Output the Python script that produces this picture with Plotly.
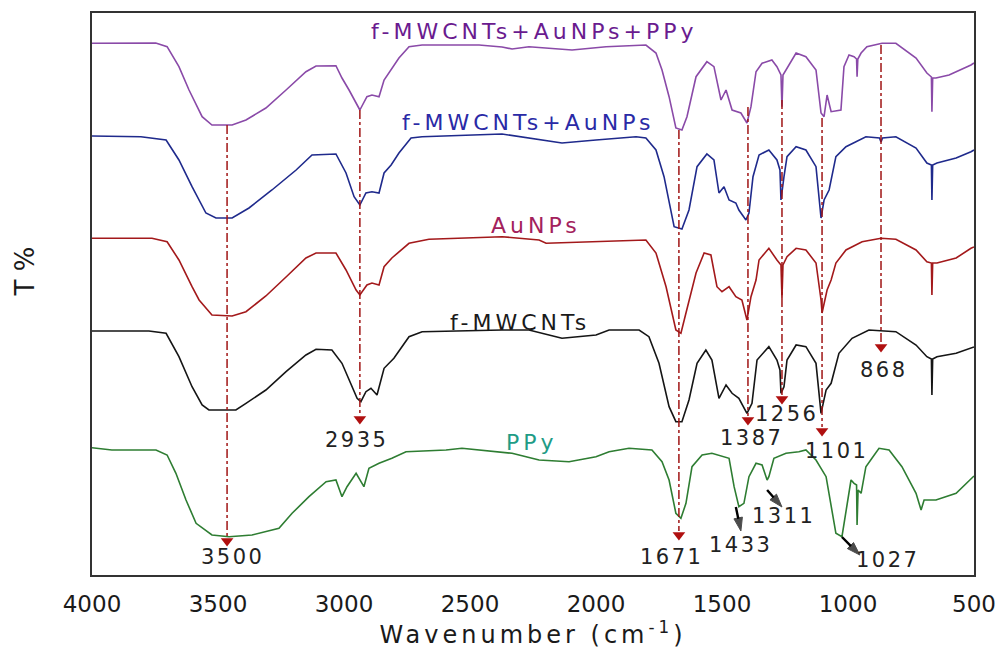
import plotly.graph_objects as go

# ---------------- data (wavenumber in cm-1, transmittance in offset units) -------------
purple_wn = [4000, 3747, 3702, 3655, 3615, 3563, 3524, 3444, 3389, 3310, 3230, 3151, 3111, 3032, 3008, 2980,
             2937, 2909, 2889, 2861, 2841, 2813, 2782, 2742, 2690, 2464, 2373, 2333, 2266, 2095, 1960, 1802,
             1762, 1738, 1710, 1683, 1659, 1639, 1603, 1560, 1532, 1504, 1484, 1460, 1425, 1401, 1385, 1365,
             1341, 1302, 1282, 1266, 1262, 1258, 1246, 1206, 1167, 1127, 1107, 1095, 1083, 1067, 1028, 1016,
             996, 976, 966, 964, 961, 948, 925, 865, 810, 730, 687, 669, 667, 664, 651, 599, 512, 500]
purple_t = [531.7, 532, 528.3, 508.3, 485, 458.3, 450, 450, 455, 467, 485, 503.3, 509, 509.3, 497, 485,
            465, 478.3, 480, 478.3, 495, 505, 517, 528.3, 530, 530, 528, 526, 528.3, 525, 528.3, 530,
            522, 505, 478.3, 447, 445, 458.3, 498.3, 513.3, 508.3, 475, 485, 465, 462, 452, 468.3, 503.3,
            511.7, 515, 508.3, 500, 468.3, 500, 505, 522, 518.3, 505, 462, 458.3, 480, 463.3, 465, 508.3,
            520, 518.3, 516, 498.3, 516, 522, 528.3, 531.7, 531.7, 517, 502, 498, 463.3, 497, 497, 500, 510, 512]

blue_wn = [4000, 3806, 3706, 3655, 3603, 3548, 3508, 3444, 3377, 3286, 3190, 3127, 3032, 2992, 2960, 2937,
           2913, 2889, 2861, 2841, 2813, 2782, 2734, 2690, 2373, 2266, 2135, 2000, 1841, 1802, 1762, 1730,
           1710, 1690, 1659, 1631, 1599, 1560, 1532, 1512, 1492, 1472, 1445, 1433, 1405, 1393, 1377, 1353,
           1314, 1282, 1270, 1266, 1254, 1242, 1206, 1167, 1127, 1107, 1095, 1075, 1048, 1008, 929, 875,
           869, 863, 810, 730, 687, 669, 667, 664, 647, 571, 512, 500]
blue_t = [439, 438.3, 435, 415, 388.3, 362, 357, 357, 367, 385, 405, 420, 421, 402, 378.3, 370,
          382, 383.3, 382, 402, 410, 422, 437, 438.3, 441, 437, 432, 435, 438.3, 437, 425, 398.3,
          375, 348.3, 346, 365, 408.3, 421, 415, 382, 388.3, 375, 372, 365, 355, 362, 398.3, 420,
          425, 415, 405, 375, 398.3, 418.3, 428.3, 425, 408.3, 357, 375, 385, 418.3, 428.3, 438.3, 437,
          433, 437, 438.3, 427, 412, 410, 375, 410, 412, 417, 423.3, 425]

red_wn = [4000, 3762, 3702, 3655, 3603, 3575, 3524, 3444, 3389, 3310, 3230, 3151, 3111, 3032, 2992, 2952,
          2937, 2909, 2889, 2861, 2841, 2810, 2742, 2663, 2373, 2226, 2198, 1960, 1802, 1762, 1722, 1683,
          1663, 1643, 1603, 1571, 1544, 1520, 1500, 1472, 1445, 1421, 1401, 1385, 1365, 1353, 1314, 1282,
          1266, 1262, 1258, 1242, 1206, 1167, 1127, 1107, 1103, 1083, 1067, 1048, 1008, 944, 869, 810,
          730, 687, 669, 667, 664, 647, 571, 512, 500]
red_t = [336.7, 336.7, 333.3, 315, 288.3, 275, 260, 259, 263.3, 279, 298, 317, 322, 322, 305, 285,
         280, 290, 292, 290, 308.3, 317, 331.7, 335.7, 338.3, 335, 331.7, 333.3, 335, 322, 288.3, 245,
         241.7, 262, 302, 322, 320, 288.3, 283.3, 288.3, 278.3, 275, 255, 278.3, 295, 315, 326.7, 315,
         310, 277, 310, 318.3, 326.7, 325, 312, 275, 262, 285, 295, 312, 325, 333.3, 336.7, 335.7,
         325, 313.3, 312, 280, 312, 312, 317, 326.7, 328]

black_wn = [4000, 3774, 3706, 3655, 3603, 3563, 3536, 3429, 3389, 3310, 3230, 3151, 3111, 3048, 3008, 2980,
            2948, 2933, 2913, 2893, 2869, 2841, 2802, 2742, 2690, 2373, 2266, 2135, 2000, 1948, 1829, 1790,
            1750, 1710, 1683, 1659, 1631, 1599, 1564, 1540, 1512, 1484, 1460, 1433, 1401, 1381, 1361, 1314,
            1282, 1270, 1266, 1254, 1242, 1206, 1167, 1127, 1107, 1087, 1067, 1036, 984, 917, 810, 730,
            687, 669, 667, 664, 647, 571, 512, 500]
black_t = [244, 244, 241.7, 218.3, 188.3, 170, 165, 165, 171.7, 185, 203.3, 220, 225.7, 225, 211.7, 195,
           176.7, 173.3, 183.3, 186.7, 180, 206.7, 216.7, 238.3, 243.3, 245, 245, 236.7, 240, 245, 245, 238.3,
           211.7, 168.3, 153.3, 153.3, 175, 211.7, 225, 215, 176.7, 190, 181.7, 176.7, 161.7, 171.7, 215, 228.3,
           215, 205, 181.7, 188.3, 215, 230, 228.3, 211.7, 161.7, 185, 191.7, 221.7, 236.7, 245, 243.3, 230,
           218.3, 216, 180, 216, 218.3, 221.7, 226.7, 228]

green_wn = [4000, 3921, 3746, 3702, 3667, 3627, 3587, 3524, 3456, 3365, 3258, 3206, 3139, 3071, 3032, 3008,
            2988, 2952, 2921, 2901, 2861, 2810, 2754, 2595, 2532, 2464, 2333, 2226, 2107, 2000, 1948, 1869,
            1778, 1738, 1710, 1683, 1663, 1643, 1619, 1579, 1540, 1472, 1452, 1433, 1413, 1393, 1365, 1341,
            1321, 1314, 1294, 1246, 1195, 1167, 1127, 1087, 1067, 1048, 1024, 1004, 988, 976, 966, 964,
            960, 948, 929, 905, 877, 837, 786, 730, 710, 698, 651, 571, 512, 500]
green_t = [127.3, 125, 125, 120, 101.7, 75, 51.7, 40, 38.3, 40, 46.7, 61.7, 78.3, 93.3, 95, 78.3,
           88.3, 101.7, 88.3, 106.7, 111.7, 116.7, 123.3, 125, 126.7, 125, 121.7, 115, 113.3, 118.3, 123.3, 126.7,
           125, 113.3, 95, 61.7, 56.7, 71.7, 108.3, 120, 121.7, 116.7, 88.3, 68.3, 71.7, 98.3, 111.7, 110,
           95, 98.3, 116.7, 121.7, 123.3, 125, 115, 98.3, 68.3, 41.7, 38.3, 68.3, 95, 91.7, 90, 50,
           85, 81.7, 108.3, 116.7, 126.7, 125, 108.3, 81.7, 65, 75, 75, 81.7, 96.7, 99]

series_names = ["f-MWCNTs+AuNPs+PPy", "f-MWCNTs+AuNPs", "AuNPs", "f-MWCNTs", "PPy"]
series_label_pos = [(2246, 544), (2266, 453), (2238, 350), (2302, 253), (2254, 133)]

# marked peaks (red dash-dot guides): label, x of guide, top, bottom (arrow), label position
peak_labels = ["3500", "2935", "1671", "1387", "1256", "1101", "868"]
peak_x = [3464, 2937, 1671, 1397, 1262, 1103, 869]
peak_top = [450, 465, 445, 468, 475, 457, 530]
peak_bottom = [34, 156, 40, 155, 176, 144, 228]
peak_label_x = [3444, 2952, 1699, 1381, 1246, 1044, 857]
peak_label_y = [18, 135, 18, 137, 161, 124, 205]

# PPy peaks marked with black arrows: label, arrow tail, arrow head, label position
ppy_labels = ["1433", "1311", "1027"]
ppy_tail = [(1445, 68), (1321, 85), (1024, 38)]
ppy_head = [(1425, 44), (1262, 68), (953, 20)]
ppy_label_pos = [(1425, 30), (1254, 59), (845, 15)]

x_ticks = [4000, 3500, 3000, 2500, 2000, 1500, 1000, 500]

# ---------------- figure -------------
FONT = "DejaVu Sans, Verdana, sans-serif"
line_colors = ["#8a4aa8", "#1f2a8c", "#a3191b", "#151515", "#2e7d32"]
label_colors = ["#6a1b8f", "#2a2aa6", "#a3215c", "#1a1a1a", "#1f9c86"]
series = [(purple_wn, purple_t), (blue_wn, blue_t), (red_wn, red_t), (black_wn, black_t), (green_wn, green_t)]

fig = go.Figure()
for (wn, t), name, col in zip(series, series_names, line_colors):
    fig.add_trace(go.Scatter(x=wn, y=t, mode="lines", name=name,
                             line=dict(color=col, width=1.6), showlegend=False))

GUIDE = "#a01515"
for lab, px, top, bot in zip(peak_labels, peak_x, peak_top, peak_bottom):
    fig.add_trace(go.Scatter(x=[px, px], y=[top, bot + 4], mode="lines",
                             line=dict(color=GUIDE, width=1.5, dash="dashdot"),
                             showlegend=False, hoverinfo="skip"))
fig.add_trace(go.Scatter(x=peak_x, y=peak_bottom, mode="markers",
                         marker=dict(symbol="triangle-down", size=11, color="#b01010"),
                         showlegend=False, hoverinfo="skip"))

# black arrows for PPy peaks (shaft as line, head as rotated arrow marker)
for (tx, ty), (hx, hy) in zip(ppy_tail, ppy_head):
    fig.add_trace(go.Scatter(x=[tx, hx], y=[ty, hy], mode="lines+markers",
                             line=dict(color="#000000", width=2.4),
                             marker=dict(symbol="arrow", size=[0, 14], angleref="previous",
                                         color="#000000", line=dict(width=1, color="#000000")),
                             showlegend=False, hoverinfo="skip"))

annotations = []
for name, (lx, ly), col in zip(series_names, series_label_pos, label_colors):
    annotations.append(dict(x=lx, y=ly, xref="x", yref="y", showarrow=False,
                            text=f'<span style="letter-spacing:4px">{name}</span>',
                            font=dict(family=FONT, size=22, color=col)))
for lab, lx, ly in zip(peak_labels, peak_label_x, peak_label_y):
    annotations.append(dict(x=lx, y=ly, xref="x", yref="y", showarrow=False,
                            text=f'<span style="letter-spacing:2.5px">{lab}</span>',
                            font=dict(family=FONT, size=21, color="#222222")))
for lab, (lx, ly) in zip(ppy_labels, ppy_label_pos):
    annotations.append(dict(x=lx, y=ly, xref="x", yref="y", showarrow=False,
                            text=f'<span style="letter-spacing:2.5px">{lab}</span>',
                            font=dict(family=FONT, size=21, color="#222222")))
# y-axis title (placed slightly above the centre, as in the original)
annotations.append(dict(x=-0.076, y=0.54, xref="paper", yref="paper", showarrow=False,
                        xanchor="center", yanchor="middle",
                        text="T %", textangle=-90,
                        font=dict(family=FONT, size=26, color="#1a1a1a")))

fig.update_layout(
    width=998, height=657,
    margin=dict(l=92, r=24, t=13, b=82),
    paper_bgcolor="white", plot_bgcolor="white",
    annotations=annotations,
    xaxis=dict(range=[4000, 500], tickvals=x_ticks, ticktext=[str(v) for v in x_ticks],
               showgrid=False, zeroline=False, ticks="", ticklabelstandoff=7, automargin=False,
               tickfont=dict(family=FONT, size=23, color="#1a1a1a"),
               showline=True, linecolor="#333333", linewidth=2, mirror=True,
               title=dict(text='<span style="letter-spacing:4px">Wavenumber (cm<sup>-1</sup>)</span>',
                          font=dict(family=FONT, size=24, color="#1a1a1a"), standoff=10)),
    yaxis=dict(range=[0, 562], showticklabels=False, ticks="", showgrid=False, zeroline=False,
               automargin=False,
               showline=True, linecolor="#333333", linewidth=2, mirror=True),
)

fig.write_html("out.html", config={"displayModeBar": False},
               post_script="document.body.style.margin='0px';document.body.style.overflow='hidden';")
